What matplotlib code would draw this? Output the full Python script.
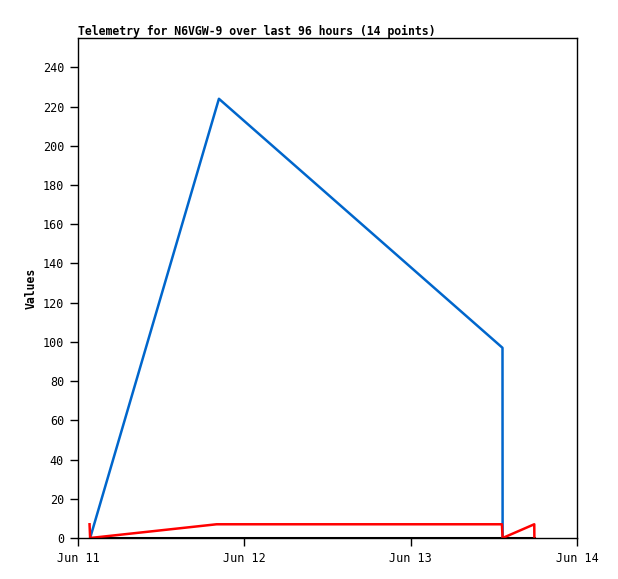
import matplotlib
matplotlib.use("Agg")
import matplotlib.pyplot as plt
import matplotlib.dates as mdates
import numpy as np
from datetime import datetime

# telemetry samples (timestamps)
blue_times = ["2024-06-11 01:45", "2024-06-11 20:20", "2024-06-13 13:15", "2024-06-13 13:16"]
blue_values = [0, 224, 97, 0]

red_times = ["2024-06-11 01:40", "2024-06-11 01:45", "2024-06-11 20:00", "2024-06-13 13:10",
             "2024-06-13 13:16", "2024-06-13 17:50", "2024-06-13 17:51"]
red_values = [7, 0, 7, 7, 0, 7, 0]

black_times = ["2024-06-11 01:45", "2024-06-13 17:50"]
black_values = [0, 0]

x_start = "2024-06-11 00:00"
x_end = "2024-06-14 00:00"
y_ticks = list(range(0, 241, 20))

def to_dt(lst):
    return [datetime.strptime(s, "%Y-%m-%d %H:%M") for s in lst]

plt.rcParams['font.family'] = ['DejaVu Sans Mono']

fig = plt.figure(figsize=(6.18, 5.79), dpi=100)
ax = fig.add_axes([78/618, 41/579, 499/618, 500/579])

ax.plot(to_dt(black_times), black_values, color="black", lw=2.2)
ax.plot(to_dt(blue_times), blue_values, color="#0066cc", lw=1.8)
ax.plot(to_dt(red_times), red_values, color="#ff0000", lw=1.8)

ax.set_xlim(to_dt([x_start])[0], to_dt([x_end])[0])
ax.set_ylim(0, 255)
ax.set_yticks(y_ticks)
ax.xaxis.set_major_locator(mdates.DayLocator())
ax.xaxis.set_major_formatter(mdates.DateFormatter("%b %d"))
ax.tick_params(axis="both", labelsize=8.5, length=6, width=1, direction="out")
ax.tick_params(axis="x", pad=4)
ax.tick_params(axis="y", pad=4)

for s in ax.spines.values():
    s.set_linewidth(1)

ax.set_ylabel("Values", fontsize=8.3, fontweight="bold", labelpad=4)
ax.set_title("Telemetry for N6VGW-9 over last 96 hours (14 points)",
             loc="left", fontsize=8.3, fontweight="bold", pad=2)

fig.savefig("out.png", dpi=100)
